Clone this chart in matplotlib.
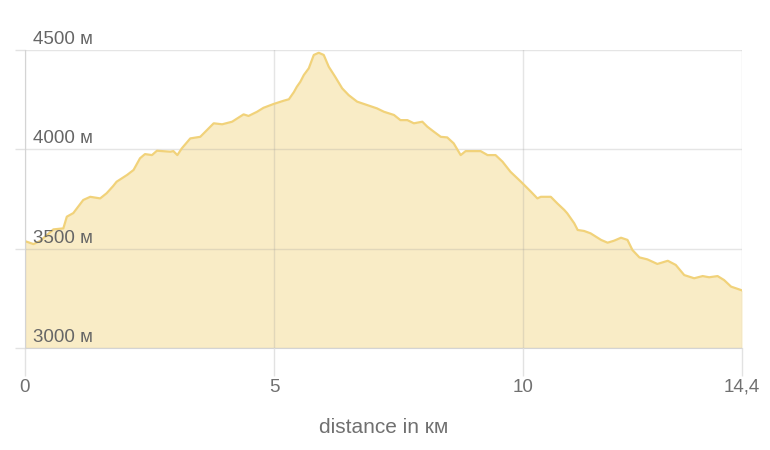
import matplotlib
matplotlib.use("Agg")
import matplotlib.pyplot as plt
from matplotlib import font_manager

# elevation profile (distance in km, elevation in m)
distance_km = [0.00, 0.17, 0.30, 0.57, 0.77, 0.84, 0.97, 1.17, 1.31, 1.51, 1.64, 1.77,
               1.84, 2.05, 2.18, 2.31, 2.41, 2.55, 2.65, 2.92, 2.98, 3.06, 3.15, 3.32,
               3.52, 3.79, 3.96, 4.16, 4.39, 4.49, 4.66, 4.79, 4.99, 5.20, 5.30, 5.40,
               5.46, 5.53, 5.60, 5.70, 5.80, 5.90, 6.00, 6.10, 6.23, 6.37, 6.50, 6.67,
               6.87, 7.07, 7.21, 7.41, 7.54, 7.68, 7.81, 7.98, 8.08, 8.21, 8.35, 8.48,
               8.61, 8.75, 8.85, 9.15, 9.29, 9.45, 9.59, 9.75, 9.96, 10.16, 10.29, 10.36,
               10.56, 10.69, 10.83, 10.89, 11.03, 11.10, 11.23, 11.36, 11.57, 11.70, 11.83,
               11.97, 12.10, 12.20, 12.34, 12.50, 12.70, 12.91, 13.07, 13.24, 13.44, 13.61,
               13.74, 13.91, 14.04, 14.18, 14.40]
elevation_m = [3538, 3523, 3538, 3597, 3602, 3661, 3679, 3745, 3761, 3753, 3779, 3815,
               3837, 3871, 3896, 3955, 3976, 3971, 3993, 3988, 3991, 3971, 4005, 4055,
               4063, 4131, 4126, 4139, 4176, 4168, 4189, 4209, 4228, 4245, 4252, 4288,
               4315, 4340, 4374, 4408, 4475, 4486, 4475, 4416, 4365, 4307, 4273, 4240,
               4223, 4206, 4189, 4173, 4147, 4147, 4131, 4139, 4114, 4089, 4063, 4060,
               4030, 3971, 3991, 3991, 3971, 3971, 3938, 3887, 3837, 3787, 3753, 3761,
               3761, 3728, 3695, 3678, 3628, 3594, 3589, 3577, 3544, 3530, 3540,
               3555, 3544, 3493, 3456, 3446, 3423, 3439, 3418, 3367, 3351, 3362,
               3356, 3362, 3342, 3309, 3290]

x_ticks = [0, 5, 10, 14.4]
x_tick_labels = ['0', '5', '10', '14,4']
y_ticks = [3000, 3500, 4000, 4500]
y_tick_labels = ['3000 м', '3500 м', '4000 м', '4500 м']

narrow = 'Liberation Sans Narrow'
names = {f.name for f in font_manager.fontManager.ttflist}
if narrow not in names:
    narrow = 'Liberation Sans'
plt.rcParams['font.family'] = ['Liberation Sans', 'DejaVu Sans']

fig = plt.figure(figsize=(7.7, 4.5), dpi=100)
ax = fig.add_axes([25 / 770, 1 - 348 / 450, 717 / 770, 298 / 450])

ax.fill_between(distance_km, 3000, elevation_m, color='#f9ecc6', lw=0, zorder=1)
ax.plot(distance_km, elevation_m, color='#f1d27a', lw=1.6, zorder=3,
        solid_joinstyle='round')

ax.set_xlim(0, 14.4)
ax.set_ylim(3000, 4500)

ax.set_xticks(x_ticks)
ax.set_xticklabels(x_tick_labels, family=[narrow, 'DejaVu Sans'], fontsize=13.5, color='#707070')
ax.set_yticks(y_ticks)
ax.set_yticklabels([])
ax.tick_params(axis='x', length=20, width=1, color='#e2e2e2', pad=2)
ax.tick_params(axis='y', length=7, width=1, color='#e2e2e2')

ax.grid(True, color='#9a9a9a', alpha=0.25, lw=1, zorder=2)
ax.set_axisbelow(False)

for val, lab in zip(y_ticks, y_tick_labels):
    ax.text(0.17, val + 10, lab, ha='left', va='bottom', fontsize=13.5,
            color='#666666', zorder=4)

for side in ['top', 'right']:
    ax.spines[side].set_visible(False)
ax.spines['left'].set_color('#d4d4d4')
ax.spines['bottom'].set_color('#d4d4d4')
ax.spines['left'].set_zorder(5)

ax.set_xlabel('distance in км', family=[narrow, 'DejaVu Sans'], fontsize=15,
              color='#707070', labelpad=16)

fig.savefig('out.png', dpi=100, facecolor='white')
